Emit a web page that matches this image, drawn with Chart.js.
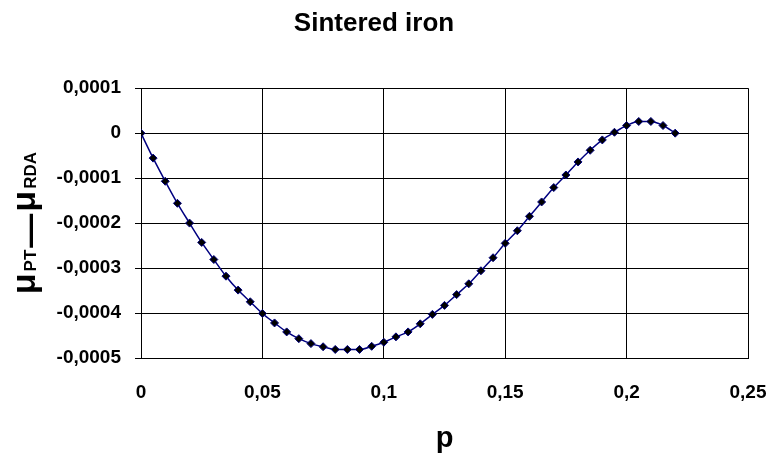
<!DOCTYPE html>
<html>
<head>
<meta charset="utf-8">
<script src="https://cdn.jsdelivr.net/npm/chart.js@4/dist/chart.umd.min.js"></script>
<style>
  html, body { margin: 0; padding: 0; background: #fff; }
</style>
</head>
<body>
<canvas id="myChart" width="770" height="456"></canvas>
<script>
const pValues = [0, 0.005, 0.01, 0.015, 0.02, 0.025, 0.03, 0.035, 0.04, 0.045,
  0.05, 0.055, 0.06, 0.065, 0.07, 0.075, 0.08, 0.085, 0.09, 0.095,
  0.1, 0.105, 0.11, 0.115, 0.12, 0.125, 0.13, 0.135, 0.14, 0.145,
  0.15, 0.155, 0.16, 0.165, 0.17, 0.175, 0.18, 0.185, 0.19, 0.195,
  0.2, 0.205, 0.21, 0.215, 0.22];

const diffValues = [0, -0.0000555, -0.000107, -0.000156, -0.0002, -0.000243, -0.000281, -0.000318, -0.000349, -0.000375,
  -0.000401, -0.000422, -0.000442, -0.000457, -0.000468, -0.000475, -0.000481, -0.000481, -0.000481, -0.000474,
  -0.000465, -0.000453, -0.000442, -0.000424, -0.000403, -0.000383, -0.000359, -0.000335, -0.000306, -0.000277,
  -0.000245, -0.000217, -0.000185, -0.000153, -0.000121, -0.000093, -0.000064, -0.000038, -0.000015, 0.000002,
  0.000017, 0.000026, 0.000026, 0.000017, 0];

const xTicks = [0, 0.05, 0.1, 0.15, 0.2, 0.25];
const yTicks = [-0.0005, -0.0004, -0.0003, -0.0002, -0.0001, 0, 0.0001];

const FONT = "'Liberation Sans', Arial, sans-serif";

// comma decimal separator, like the original
const fmt = v => v === 0 ? '0' : String(v).replace('.', ',');

// y axis title with subscripts: μPT—μRDA
const yTitlePlugin = {
  id: 'yTitle',
  afterDraw(chart) {
    const ctx = chart.ctx;
    const area = chart.chartArea;
    const parts = [
      { text: 'μ', size: 34, dy: 0 },
      { text: 'PT', size: 17, dy: 1 },
      { text: '—', size: 34, dy: 5 },
      { text: 'μ', size: 34, dy: 0 },
      { text: 'RDA', size: 17, dy: 1 }
    ];
    const gap = 2;
    let total = 0;
    ctx.save();
    parts.forEach(p => {
      ctx.font = 'bold ' + p.size + 'px ' + FONT;
      p.w = ctx.measureText(p.text).width;
      total += p.w;
    });
    total += gap * (parts.length - 1);
    ctx.translate(35, (area.top + area.bottom) / 2);
    ctx.rotate(-Math.PI / 2);
    ctx.fillStyle = '#000';
    ctx.textBaseline = 'alphabetic';
    ctx.textAlign = 'left';
    let u = -total / 2;
    parts.forEach(p => {
      ctx.font = 'bold ' + p.size + 'px ' + FONT;
      ctx.fillText(p.text, u, p.dy);
      u += p.w + gap;
    });
    ctx.restore();
  }
};

new Chart(document.getElementById('myChart'), {
  type: 'line',
  data: {
    datasets: [{
      label: 'Sintered iron',
      data: pValues.map((p, i) => ({ x: p, y: diffValues[i] })),
      borderColor: '#000080',
      borderWidth: 1.5,
      cubicInterpolationMode: 'monotone',
      pointStyle: 'rectRot',
      pointRadius: 4,
      pointBackgroundColor: '#000',
      pointBorderColor: '#000080',
      pointBorderWidth: 1,
      fill: false
    }]
  },
  options: {
    responsive: false,
    animation: false,
    layout: { padding: { left: 0, right: 22, top: 0, bottom: 0 } },
    plugins: {
      legend: { display: false },
      tooltip: { enabled: false },
      title: {
        display: true,
        text: 'Sintered iron',
        color: '#000',
        font: { family: FONT, size: 26, weight: 'bold' },
        padding: { top: 8, bottom: 49 }
      }
    },
    scales: {
      x: {
        type: 'linear',
        min: 0,
        max: 0.25,
        afterBuildTicks: s => { s.ticks = xTicks.map(v => ({ value: v })); },
        afterFit: s => { s.height = 98; s.paddingLeft = 0; s.paddingRight = 0; },
        ticks: {
          callback: v => fmt(v),
          color: '#000',
          font: { family: FONT, size: 19, weight: 'bold' },
          padding: 23,
          maxRotation: 0
        },
        grid: { color: '#000', lineWidth: 1, drawTicks: false },
        border: { color: '#000', width: 1 },
        title: {
          display: true,
          text: 'p',
          color: '#000',
          font: { family: FONT, size: 29, weight: 'bold' },
          padding: { top: 17, bottom: 0 }
        }
      },
      y: {
        type: 'linear',
        min: -0.0005,
        max: 0.0001,
        afterBuildTicks: s => { s.ticks = yTicks.map(v => ({ value: v })); },
        afterFit: s => { s.width = 141; },
        ticks: {
          callback: v => fmt(v),
          color: '#000',
          font: { family: FONT, size: 19, weight: 'bold' },
          padding: 14
        },
        grid: { color: '#000', lineWidth: 1, tickLength: 6 },
        border: { color: '#000', width: 1 }
      }
    }
  },
  plugins: [yTitlePlugin]
});
</script>
</body>
</html>
